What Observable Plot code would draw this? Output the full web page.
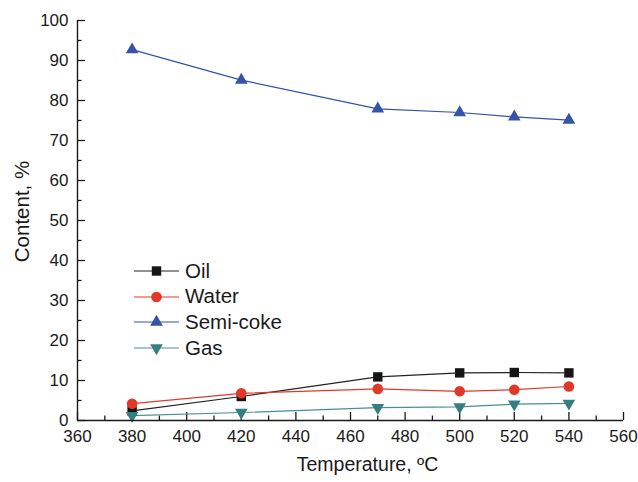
<!DOCTYPE html>
<html><head><meta charset="utf-8">
<script src="https://cdn.jsdelivr.net/npm/d3@7"></script>
<script src="https://cdn.jsdelivr.net/npm/@observablehq/plot@0.6"></script>
<style>
body{margin:0;background:#fff;}
#wrap{position:relative;width:638px;height:482px;font-family:"Liberation Sans",Arial,sans-serif;}
#legend{position:absolute;left:134px;top:258px;font-size:20.5px;color:#1a1a1a;line-height:1;}
.row{display:flex;align-items:center;height:25.7px;}
.row svg{margin-right:5px;display:block}
</style></head><body><div id="wrap"></div>
<script>
const temperature = [380, 420, 470, 500, 520, 540];
const oil = [2.4, 6.0, 10.9, 11.9, 12.0, 11.9];
const water = [4.2, 6.8, 7.9, 7.3, 7.7, 8.5];
const semiCoke = [92.7, 85.1, 77.9, 77.0, 75.9, 75.1];
const gas = [1.2, 2.0, 3.2, 3.4, 4.1, 4.3];
const seriesNames = ["Oil", "Water", "Semi-coke", "Gas"];
const xTicks = [360, 380, 400, 420, 440, 460, 480, 500, 520, 540, 560];
const yTicks = [0, 10, 20, 30, 40, 50, 60, 70, 80, 90, 100];
const xMinor = [370, 390, 410, 430, 450, 470, 490, 510, 530, 550];
const yMinor = [5, 15, 25, 35, 45, 55, 65, 75, 85, 95];

const styles = {
  "Oil": {stroke: "#151515", line: "#222", symbol: "square", r: 5.3, rotate: 0},
  "Water": {stroke: "#e2382a", line: "#e2382a", symbol: "circle", r: 5.3, rotate: 0},
  "Semi-coke": {stroke: "#3453a9", line: "#3453a9", symbol: "triangle", r: 4.7, rotate: 0},
  "Gas": {stroke: "#35807f", line: "#4a9090", symbol: "triangle", r: 4.7, rotate: 180}
};
const values = {"Oil": oil, "Water": water, "Semi-coke": semiCoke, "Gas": gas};

const W = 638, H = 482, mL = 77, mR = 15, mT = 20, mB = 62;
const innerW = W - mL - mR, innerH = H - mT - mB;
const axisColor = "#1a1a1a";

const marks = [];
for (const name of seriesNames) {
  const st = styles[name];
  const rows = temperature.map((t, i) => ({t, v: values[name][i]}));
  marks.push(Plot.line(rows, {x: "t", y: "v", stroke: st.line, strokeWidth: 1.2}));
}
for (const name of seriesNames) {
  const st = styles[name];
  const rows = temperature.map((t, i) => ({t, v: values[name][i]}));
  marks.push(Plot.dot(rows, {x: "t", y: "v", symbol: st.symbol, r: st.r, fill: st.stroke, stroke: "none", rotate: st.rotate}));
}

const chart = Plot.plot({
  width: W, height: H,
  marginLeft: mL, marginRight: mR, marginTop: mT, marginBottom: mB,
  style: {fontFamily: "'Liberation Sans', Arial, sans-serif", color: "#1a1a1a", background: "#fff"},
  x: {domain: [360, 560]},
  y: {domain: [0, 100]},
  marks: [
    Plot.tickY(yTicks, {y: d => d, insetRight: innerW - 8, stroke: axisColor, strokeWidth: 1.3}),
    Plot.tickY(yMinor, {y: d => d, insetRight: innerW - 4.5, stroke: axisColor, strokeWidth: 1.3}),
    Plot.tickX(xTicks, {x: d => d, insetTop: innerH - 8, stroke: axisColor, strokeWidth: 1.3}),
    Plot.tickX(xMinor, {x: d => d, insetTop: innerH - 4.5, stroke: axisColor, strokeWidth: 1.3}),
    Plot.axisY(yTicks, {tickSize: 0, tickPadding: 9, fontSize: 17, label: null}),
    Plot.axisX(xTicks, {tickSize: 0, tickPadding: 9, fontSize: 17, label: null}),
    ...marks,
    Plot.ruleY([0], {stroke: axisColor, strokeWidth: 1.4}),
    Plot.ruleX([360], {stroke: axisColor, strokeWidth: 1.4}),
    Plot.text(["Content, %"], {frameAnchor: "left", textAnchor: "middle", dx: -55, dy: -9, rotate: -90, fontSize: 20.5, fill: "#1a1a1a"}),
    Plot.text(["Temperature, ºC"], {frameAnchor: "bottom", textAnchor: "middle", dx: 17, dy: 50, fontSize: 19.5, fill: "#1a1a1a"})
  ]
});
const wrap = document.getElementById("wrap");
wrap.appendChild(chart);

// legend
const legend = document.createElement("div");
legend.id = "legend";
const sym = {
  square: () => d3.symbol(d3.symbolSquare, Math.PI * 5.3 * 5.3)(),
  circle: () => d3.symbol(d3.symbolCircle, Math.PI * 5.3 * 5.3)(),
  triangle: () => d3.symbol(d3.symbolTriangle, Math.PI * 4.7 * 4.7)()
};
for (const name of seriesNames) {
  const st = styles[name];
  const row = document.createElement("div");
  row.className = "row";
  row.innerHTML = `<svg width="46" height="16"><line x1="0" x2="45" y1="8" y2="8" stroke="${st.line}" stroke-width="1.2"/><path d="${sym[st.symbol]()}" transform="translate(22.5,8) rotate(${st.rotate})" fill="${st.stroke}"/></svg><span>${name}</span>`;
  legend.appendChild(row);
}
wrap.appendChild(legend);
</script>
</body></html>
